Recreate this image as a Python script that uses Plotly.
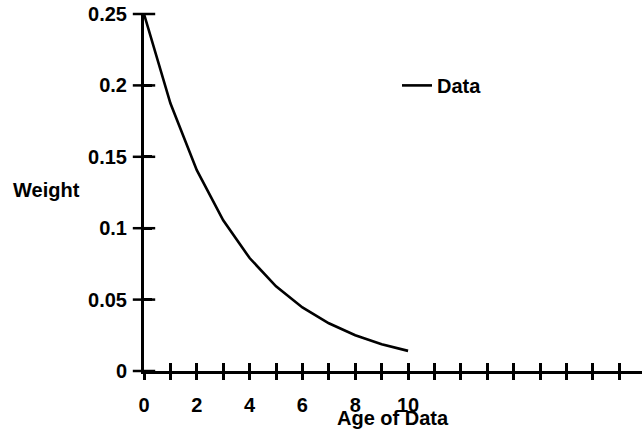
import plotly.graph_objects as go

# Data
ages = [0, 1, 2, 3, 4, 5, 6, 7, 8, 9, 10]
weights = [0.25, 0.1875, 0.1406, 0.1055, 0.0791, 0.0593, 0.0445, 0.0334, 0.0250, 0.0188, 0.0141]

x_tick_vals = list(range(0, 19))
x_tick_text = ["0", "", "2", "", "4", "", "6", "", "8", "", "10", "", "", "", "", "", "", "", ""]
y_tick_vals = [0, 0.05, 0.1, 0.15, 0.2, 0.25]
y_tick_text = ["0", "0.05", "0.1", "0.15", "0.2", "0.25"]

series_name = "Data"
x_title = "Age of Data"
y_title = "Weight"

FONT = "Liberation Sans, Arial, Helvetica, sans-serif"
X_RANGE = [0, 18.86]
Y_RANGE = [0, 0.25]

fig = go.Figure()
fig.add_trace(go.Scatter(
    x=ages, y=weights, mode="lines", name=series_name,
    line=dict(color="black", width=2.6),
))
# invisible trace to host the overlay x axis (outside half of the crossing x ticks)
fig.add_trace(go.Scatter(
    x=[ages[0]], y=[weights[-1]], xaxis="x2", yaxis="y", mode="markers",
    marker=dict(opacity=0), showlegend=False, hoverinfo="skip",
))
# crossing tick marks on the y axis, placed at the y tick values
fig.add_trace(go.Scatter(
    x=[X_RANGE[0]] * len(y_tick_vals), y=y_tick_vals, mode="markers",
    marker=dict(symbol="line-ew", size=16, color="black",
                line=dict(width=2.5, color="black")),
    cliponaxis=False, showlegend=False, hoverinfo="skip",
))

bold = dict(family=FONT, size=20, color="black", weight="bold")

fig.update_layout(
    width=642, height=436,
    margin=dict(l=144, r=0, t=14, b=65),
    paper_bgcolor="white", plot_bgcolor="white",
    showlegend=True,
    legend=dict(x=0.508, y=0.80, xanchor="left", yanchor="middle",
                font=bold, bgcolor="rgba(0,0,0,0)", borderwidth=0),
    xaxis=dict(range=X_RANGE, tickvals=x_tick_vals, ticktext=x_tick_text,
               ticks="inside", ticklen=8, tickwidth=2.5, tickcolor="black",
               showline=True, linewidth=3, linecolor="black",
               showgrid=False, zeroline=False, tickfont=bold,
               ticklabelstandoff=14),
    yaxis=dict(range=Y_RANGE, tickvals=y_tick_vals, ticktext=y_tick_text,
               ticks="inside", ticklen=8, tickwidth=2.5, tickcolor="black",
               showline=True, linewidth=3, linecolor="black",
               showgrid=False, zeroline=False, tickfont=bold,
               ticklabelstandoff=10),
    xaxis2=dict(range=X_RANGE, tickvals=x_tick_vals, overlaying="x", anchor="y",
                side="bottom",
                ticks="outside", ticklen=8, tickwidth=2.5, tickcolor="black",
                showticklabels=False, showline=False, showgrid=False, zeroline=False),
    annotations=[
        dict(text=y_title, xref="paper", yref="paper", x=-0.195, y=0.507,
             xanchor="center", yanchor="middle", showarrow=False, font=bold),
        dict(text=x_title, xref="paper", yref="paper", x=0.5, y=-0.133,
             xanchor="center", yanchor="middle", showarrow=False, font=bold),
    ],
)

fig.write_html("out.html", post_script="document.body.style.margin='0';",
               config={"displayModeBar": False})
